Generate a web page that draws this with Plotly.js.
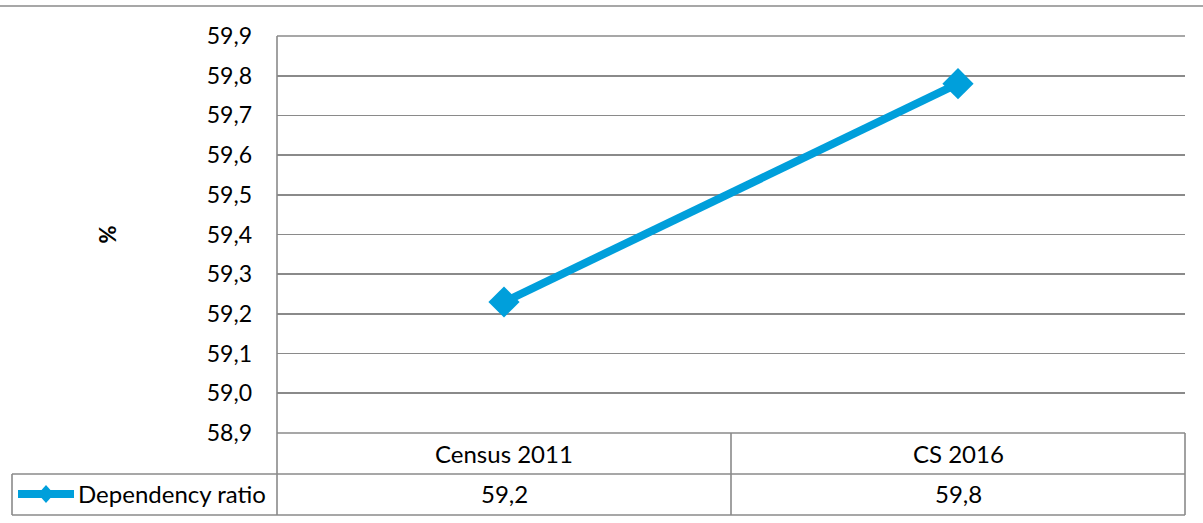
<!DOCTYPE html>
<html>
<head>
<meta charset="utf-8">
<script src="https://cdn.plot.ly/plotly-3.0.1.min.js"></script>
<style>html,body{margin:0;padding:0;background:#fff;}#chart{width:1203px;height:523px;}</style>
</head>
<body>
<div id="chart"></div>
<script>
var categories = ["Census 2011", "CS 2016"];
var seriesName = "Dependency ratio";
var dependencyRatio = [59.23, 59.78];
var yTickValues = [58.9, 59.0, 59.1, 59.2, 59.3, 59.4, 59.5, 59.6, 59.7, 59.8, 59.9];

var LINE_COLOR = "#009FDB";
var GRID = "#8a8a8a";
var FONT = "Lato, 'Open Sans', sans-serif";

// pixel helpers for layout geometry (plot area: x 277..1185, y 36..433)
var L = 277, R = 1185, T = 36, B = 433;
function px(x) { return (x - L) / (R - L); }
function py(y) { return (B - y) / (B - T); }

function fmt(v) { return v.toFixed(1).replace(".", ","); }

var trace = {
  x: categories,
  y: dependencyRatio,
  type: "scatter",
  mode: "lines+markers",
  name: seriesName,
  line: { color: LINE_COLOR, width: 8 },
  marker: { symbol: "diamond", size: 24, color: LINE_COLOR },
  showlegend: false,
  hoverinfo: "x+y",
  cliponaxis: false
};

var G = { color: GRID, width: 1.6 };
var shapes = [
  // top rule across the whole image
  { type: "line", xref: "paper", yref: "paper", x0: px(0), x1: px(1203), y0: py(6), y1: py(6), line: G },
  // top gridline and x-axis line (range boundaries)
  { type: "line", xref: "paper", yref: "paper", x0: 0, x1: 1, y0: 1, y1: 1, line: G, layer: "below" },
  { type: "line", xref: "paper", yref: "paper", x0: 0, x1: 1, y0: 0, y1: 0, line: G, layer: "below" },
  // left plot border extending through table
  { type: "line", xref: "paper", yref: "paper", x0: 0, x1: 0, y0: 1, y1: py(515), line: G },
  // table horizontal lines
  { type: "line", xref: "paper", yref: "paper", x0: px(12), x1: 1, y0: py(474), y1: py(474), line: G },
  { type: "line", xref: "paper", yref: "paper", x0: px(12), x1: 1, y0: py(515), y1: py(515), line: G },
  // table left border (legend cell)
  { type: "line", xref: "paper", yref: "paper", x0: px(12), x1: px(12), y0: py(474), y1: py(515), line: G },
  // table right border
  { type: "line", xref: "paper", yref: "paper", x0: 1, x1: 1, y0: 0, y1: py(515), line: G },
  // legend key line
  { type: "line", xref: "paper", yref: "paper", x0: px(18), x1: px(74), y0: py(494), y1: py(494), line: { color: LINE_COLOR, width: 8 } },
  // legend key diamond
  { type: "path", xref: "paper", yref: "paper",
    path: "M " + px(46) + " " + py(485) + " L " + px(54) + " " + py(494) + " L " + px(46) + " " + py(503) + " L " + px(38) + " " + py(494) + " Z",
    fillcolor: LINE_COLOR, line: { color: LINE_COLOR, width: 0 } }
];

// vertical dividers between categories in the table
for (var i = 0; i < categories.length - 1; i++) {
  shapes.push({ type: "line", xref: "x", yref: "paper", x0: i + 0.5, x1: i + 0.5, y0: 0, y1: py(515), line: G });
}

var TF = { family: FONT, size: 24, color: "#000" };
var annotations = [];
categories.forEach(function (c, i) {
  annotations.push({ x: c, xref: "x", yref: "paper", y: py(453), text: c, showarrow: false, font: TF, xanchor: "center", yanchor: "middle" });
  annotations.push({ x: c, xref: "x", yref: "paper", y: py(494), text: fmt(dependencyRatio[i]), showarrow: false, font: TF, xanchor: "center", yanchor: "middle" });
});
annotations.push({ xref: "paper", yref: "paper", x: px(76), y: py(494), text: seriesName, showarrow: false, font: TF, xanchor: "left", yanchor: "middle" });

var layout = {
  width: 1203,
  height: 523,
  margin: { l: L, r: 1203 - R, t: T, b: 523 - B, pad: 0 },
  paper_bgcolor: "#fff",
  plot_bgcolor: "#fff",
  separators: ", ",
  font: { family: FONT, size: 22, color: "#000" },
  xaxis: {
    type: "category",
    range: [-0.5, categories.length - 0.5],
    showticklabels: false,
    showgrid: false,
    zeroline: false,
    showline: false,
    ticks: ""
  },
  yaxis: {
    range: [58.9, 59.9],
    tickvals: yTickValues,
    tickformat: ".1f",
    showgrid: true,
    gridcolor: GRID,
    gridwidth: 1.6,
    zeroline: false,
    showline: false,
    ticks: "",
    ticklabelstandoff: 24,
    tickfont: { family: FONT, size: 23, color: "#000" },
    title: { text: "<b>%</b>", font: { family: FONT, size: 22, color: "#000" }, standoff: 84 }
  },
  shapes: shapes,
  annotations: annotations,
  showlegend: false
};

Plotly.newPlot("chart", [trace], layout, { displayModeBar: false, staticPlot: true });
</script>
</body>
</html>
